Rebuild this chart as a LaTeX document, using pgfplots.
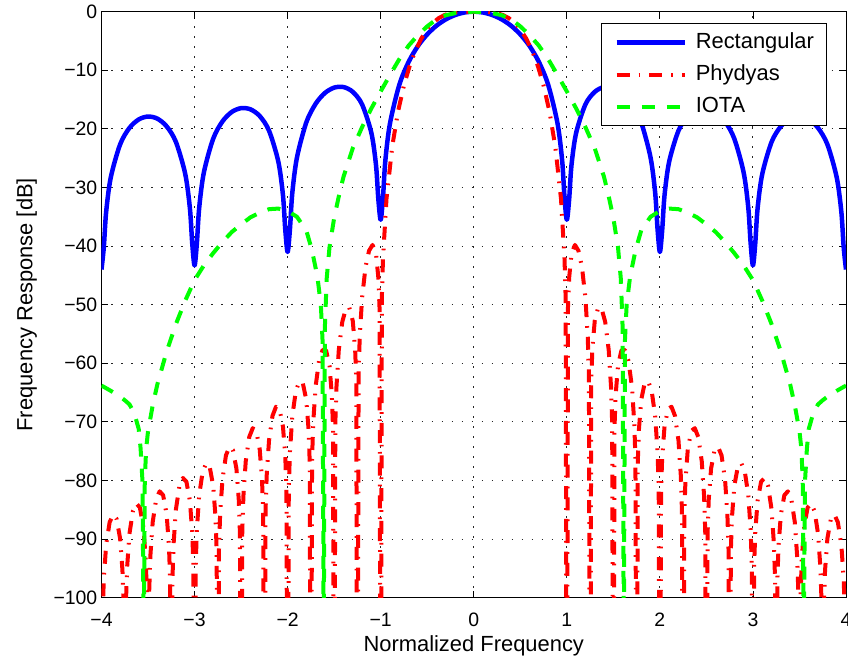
\documentclass[border=0pt]{standalone}
\usepackage{pgfplots}
\pgfplotsset{compat=1.18}
\usepackage{fontspec}
\setmainfont{Liberation Sans}
\usetikzlibrary{calc}
\definecolor{mblue}{RGB}{0,0,255}
\definecolor{mred}{RGB}{255,0,0}
\definecolor{mgreen}{RGB}{0,255,0}
\begin{document}
\begin{tikzpicture}
\begin{axis}[
  scale only axis, width=744.5bp, height=586bp,
  xmin=-4, xmax=4, ymin=-100, ymax=0,
  xtick={-4,-3,-2,-1,0,1,2,3,4},
  ytick={-100,-90,-80,-70,-60,-50,-40,-30,-20,-10,0},
  xticklabels={−4,−3,−2,−1,0,1,2,3,4},
  yticklabels={−100,−90,−80,−70,−60,−50,−40,−30,−20,−10,0},
  tick align=inside, major tick length=7bp,
  tick style={black, line width=0.8bp},
  axis line style={black, line width=1bp},
  grid=major,
  grid style={black!85, line width=0.9bp, dash pattern=on 1.3bp off 8.7bp},
  ticklabel style={font=\fontsize{19.5}{23}\selectfont},
  xticklabel style={anchor=base, yshift=-29bp},
  yticklabel style={xshift=-0.7bp},
  label style={font=\fontsize{22}{26}\selectfont},
  xlabel={Normalized Frequency},
  ylabel={Frequency Response [dB]},
  xlabel style={at={(axis description cs:0.5,-0.0922)}, anchor=base},
  ylabel style={at={(axis description cs:-0.0821,0.5)}, anchor=south},
  every axis plot/.append style={line join=round},
  legend image code/.code={\draw[#1] (0bp,0bp) -- (68bp,0bp);},
  legend cell align=left,
  legend style={at={(0.9751,0.9807)}, anchor=north east, draw=black, line width=1bp,
    fill=white, inner xsep=13bp, inner ysep=3bp, column sep=9bp, row sep=0bp,
    font=\fontsize{22}{26}\selectfont,
    nodes={inner xsep=0bp, inner ysep=5.5bp, text height=16bp, text depth=5bp}},
]
% Rectangular
\addplot[mblue, line width=4.5bp, smooth, tension=0.5] coordinates {
(-4.0,-44.0) (-3.975,-40.17) (-3.95,-34.17) (-3.9,-28.26) (-3.8,-22.65) (-3.7,-19.84)
(-3.6,-18.39) (-3.5,-17.89) (-3.4,-18.25) (-3.3,-19.57) (-3.2,-22.24) (-3.1,-27.71)
(-3.05,-33.56) (-3.025,-39.52) (-3.0,-43.3) (-2.975,-39.45) (-2.95,-33.42) (-2.9,-27.43)
(-2.8,-21.68) (-2.7,-18.72) (-2.6,-17.11) (-2.5,-16.46) (-2.4,-16.66) (-2.3,-17.80)
(-2.2,-20.30) (-2.1,-25.58) (-2.05,-31.33) (-2.025,-37.24) (-2.0,-41.0) (-1.975,-37.07)
(-1.95,-30.99) (-1.9,-24.90) (-1.8,-18.93) (-1.7,-15.74) (-1.6,-13.88) (-1.5,-12.96)
(-1.4,-12.86) (-1.3,-13.68) (-1.2,-15.82) (-1.1,-20.70) (-1.05,-26.23) (-1.025,-32.03)
(-1.0,-35.5) (-0.975,-31.62) (-0.95,-25.41) (-0.9,-19.05) (-0.8,-12.48) (-0.7,-8.58)
(-0.6,-5.86) (-0.5,-3.87) (-0.4,-2.38) (-0.3,-1.31) (-0.2,-0.57) (-0.1,-0.14) (0,0)
(0.1,-0.14) (0.2,-0.57) (0.3,-1.31) (0.4,-2.38) (0.5,-3.87) (0.6,-5.86) (0.7,-8.58)
(0.8,-12.48) (0.9,-19.05) (0.95,-25.41) (0.975,-31.62) (1.0,-35.5) (1.025,-32.03)
(1.05,-26.23) (1.1,-20.70) (1.2,-15.82) (1.3,-13.68) (1.4,-12.86) (1.5,-12.96)
(1.6,-13.88) (1.7,-15.74) (1.8,-18.93) (1.9,-24.90) (1.95,-30.99) (1.975,-37.07)
(2.0,-41.0) (2.025,-37.24) (2.05,-31.33) (2.1,-25.58) (2.2,-20.30) (2.3,-17.80)
(2.4,-16.66) (2.5,-16.46) (2.6,-17.11) (2.7,-18.72) (2.8,-21.68) (2.9,-27.43)
(2.95,-33.42) (2.975,-39.45) (3.0,-43.3) (3.025,-39.52) (3.05,-33.56) (3.1,-27.71)
(3.2,-22.24) (3.3,-19.57) (3.4,-18.25) (3.5,-17.89) (3.6,-18.39) (3.7,-19.84)
(3.8,-22.65) (3.9,-28.26) (3.95,-34.17) (3.975,-40.17) (4.0,-44.0)
};
\addlegendentry{Rectangular}
% Phydyas
\addplot[mred, line width=4bp, dash pattern=on 13bp off 9bp on 1.7bp off 9bp] coordinates {
(-4.0,-150) (-3.9875,-102.77) (-3.975,-96.77) (-3.95,-91.00) (-3.9125,-87.11) (-3.875,-85.83)
(-3.8375,-86.55) (-3.8,-89.90) (-3.775,-95.29) (-3.7625,-101.11) (-3.75,-150)
(-3.7375,-100.92) (-3.725,-94.91) (-3.7,-89.13) (-3.6625,-85.22) (-3.625,-83.92)
(-3.5875,-84.62) (-3.55,-87.95) (-3.525,-93.33) (-3.5125,-99.14) (-3.5,-150)
(-3.4875,-98.93) (-3.475,-92.91) (-3.45,-87.12) (-3.4125,-83.17) (-3.375,-81.85)
(-3.3375,-82.52) (-3.3,-85.81) (-3.275,-91.18) (-3.2625,-96.98) (-3.25,-150)
(-3.2375,-96.75) (-3.225,-90.72) (-3.2,-84.90) (-3.1625,-80.93) (-3.125,-79.57)
(-3.0875,-80.21) (-3.05,-83.48) (-3.025,-88.82) (-3.0125,-94.61) (-3.0,-150)
(-2.9875,-94.36) (-2.975,-88.32) (-2.95,-82.47) (-2.9125,-78.46) (-2.875,-77.06)
(-2.8375,-77.66) (-2.8,-80.89) (-2.775,-86.20) (-2.7625,-91.98) (-2.75,-150)
(-2.7375,-91.70) (-2.725,-85.64) (-2.7,-79.77) (-2.6625,-75.70) (-2.625,-74.26)
(-2.5875,-74.81) (-2.55,-77.98) (-2.525,-83.27) (-2.5125,-89.03) (-2.5,-150)
(-2.4875,-88.71) (-2.475,-82.63) (-2.45,-76.71) (-2.4125,-72.58) (-2.375,-71.07)
(-2.3375,-71.55) (-2.3,-74.66) (-2.275,-79.90) (-2.2625,-85.64) (-2.25,-150)
(-2.2375,-85.27) (-2.225,-79.16) (-2.2,-73.18) (-2.1625,-68.97) (-2.125,-67.42)
(-2.0875,-67.77) (-2.05,-70.80) (-2.025,-75.98) (-2.0125,-81.69) (-2.0,-150)
(-1.9875,-81.26) (-1.975,-75.12) (-1.95,-69.08) (-1.9125,-64.78) (-1.875,-63.09)
(-1.8375,-63.33) (-1.8,-66.19) (-1.775,-71.27) (-1.7625,-76.92) (-1.75,-150)
(-1.7375,-76.39) (-1.725,-70.20) (-1.7,-64.05) (-1.6625,-59.58) (-1.625,-57.73)
(-1.5875,-57.76) (-1.55,-60.41) (-1.525,-65.35) (-1.5125,-70.93) (-1.5,-150)
(-1.4875,-70.25) (-1.475,-63.98) (-1.45,-57.68) (-1.4125,-52.92) (-1.375,-50.75)
(-1.3375,-50.47) (-1.3,-52.77) (-1.275,-57.42) (-1.2625,-62.87) (-1.25,-150)
(-1.2375,-61.88) (-1.225,-55.45) (-1.2,-48.84) (-1.1625,-43.54) (-1.125,-40.79)
(-1.0875,-39.80) (-1.05,-41.34) (-1.025,-45.42) (-1.0125,-50.48) (-1.0,-150)
(-0.9875,-48.8) (-0.975,-42.03) (-0.9375,-31.91) (-0.875,-22.88) (-0.8125,-16.95)
(-0.75,-12.57) (-0.6875,-9.20) (-0.625,-6.58) (-0.5625,-4.55) (-0.5,-3.01)
(-0.4375,-1.88) (-0.375,-1.08) (-0.3125,-0.56) (-0.25,-0.25) (-0.1875,-0.09)
(-0.125,-0.02) (0,0)
(0.125,-0.02) (0.1875,-0.09) (0.25,-0.25) (0.3125,-0.56) (0.375,-1.08) (0.4375,-1.88)
(0.5,-3.01) (0.5625,-4.55) (0.625,-6.58) (0.6875,-9.20) (0.75,-12.57) (0.8125,-16.95)
(0.875,-22.88) (0.9375,-31.91) (0.975,-42.03) (0.9875,-48.8) (1.0,-150)
(1.0125,-50.48) (1.025,-45.42) (1.05,-41.34) (1.0875,-39.80) (1.125,-40.79)
(1.1625,-43.54) (1.2,-48.84) (1.225,-55.45) (1.2375,-61.88) (1.25,-150)
(1.2625,-62.87) (1.275,-57.42) (1.3,-52.77) (1.3375,-50.47) (1.375,-50.75)
(1.4125,-52.92) (1.45,-57.68) (1.475,-63.98) (1.4875,-70.25) (1.5,-150)
(1.5125,-70.93) (1.525,-65.35) (1.55,-60.41) (1.5875,-57.76) (1.625,-57.73)
(1.6625,-59.58) (1.7,-64.05) (1.725,-70.20) (1.7375,-76.39) (1.75,-150)
(1.7625,-76.92) (1.775,-71.27) (1.8,-66.19) (1.8375,-63.33) (1.875,-63.09)
(1.9125,-64.78) (1.95,-69.08) (1.975,-75.12) (1.9875,-81.26) (2.0,-150)
(2.0125,-81.69) (2.025,-75.98) (2.05,-70.80) (2.0875,-67.77) (2.125,-67.42)
(2.1625,-68.97) (2.2,-73.18) (2.225,-79.16) (2.2375,-85.27) (2.25,-150)
(2.2625,-85.64) (2.275,-79.90) (2.3,-74.66) (2.3375,-71.55) (2.375,-71.07)
(2.4125,-72.58) (2.45,-76.71) (2.475,-82.63) (2.4875,-88.71) (2.5,-150)
(2.5125,-89.03) (2.525,-83.27) (2.55,-77.98) (2.5875,-74.81) (2.625,-74.26)
(2.6625,-75.70) (2.7,-79.77) (2.725,-85.64) (2.7375,-91.70) (2.75,-150)
(2.7625,-91.98) (2.775,-86.20) (2.8,-80.89) (2.8375,-77.66) (2.875,-77.06)
(2.9125,-78.46) (2.95,-82.47) (2.975,-88.32) (2.9875,-94.36) (3.0,-150)
(3.0125,-94.61) (3.025,-88.82) (3.05,-83.48) (3.0875,-80.21) (3.125,-79.57)
(3.1625,-80.93) (3.2,-84.90) (3.225,-90.72) (3.2375,-96.75) (3.25,-150)
(3.2625,-96.98) (3.275,-91.18) (3.3,-85.81) (3.3375,-82.52) (3.375,-81.85)
(3.4125,-83.17) (3.45,-87.12) (3.475,-92.91) (3.4875,-98.93) (3.5,-150)
(3.5125,-99.14) (3.525,-93.33) (3.55,-87.95) (3.5875,-84.62) (3.625,-83.92)
(3.6625,-85.22) (3.7,-89.13) (3.725,-94.91) (3.7375,-100.92) (3.75,-150)
(3.7625,-101.11) (3.775,-95.29) (3.8,-89.90) (3.8375,-86.55) (3.875,-85.83)
(3.9125,-87.11) (3.95,-91.00) (3.975,-96.77) (3.9875,-102.77) (4.0,-150)
};
\addlegendentry{Phydyas}
% IOTA
\addplot[mgreen, line width=4bp, dash pattern=on 13bp off 12bp] coordinates {
(-4.0,-63.8) (-3.9,-64.7) (-3.8,-65.7) (-3.75,-66.3) (-3.7,-67.0) (-3.65,-68.4)
(-3.6,-71.2) (-3.58,-74.5) (-3.56,-80) (-3.545,-110) (-3.535,-80) (-3.52,-74.5)
(-3.5,-71.6) (-3.45,-67.2) (-3.4,-63.6) (-3.3,-58.0) (-3.2,-53.3) (-3.1,-49.3)
(-3.0,-45.8) (-2.9,-43.3) (-2.8,-41.2) (-2.7,-39.3) (-2.6,-37.6) (-2.5,-36.3)
(-2.4,-35.1) (-2.3,-34.3) (-2.2,-33.7) (-2.1,-33.6) (-2.0,-34.0) (-1.9,-35.0)
(-1.8,-37.3) (-1.74,-40.6) (-1.68,-45.2) (-1.643,-50) (-1.625,-56) (-1.612,-110)
(-1.6,-54) (-1.58,-45.5) (-1.55,-40.2) (-1.5,-35.2) (-1.45,-31.5) (-1.4,-28.2)
(-1.3,-23.3) (-1.2,-19.7) (-1.1,-16.5) (-1.0,-13.6) (-0.9,-10.8) (-0.8,-8.1)
(-0.7,-5.8) (-0.6,-4.0) (-0.5,-2.5) (-0.4,-1.3) (-0.3,-0.6) (-0.2,-0.25)
(-0.1,-0.05) (0,0)
(0.1,-0.05) (0.2,-0.25) (0.3,-0.6) (0.4,-1.3) (0.5,-2.5) (0.6,-4.0) (0.7,-5.8)
(0.8,-8.1) (0.9,-10.8) (1.0,-13.6) (1.1,-16.5) (1.2,-19.7) (1.3,-23.3) (1.4,-28.2)
(1.45,-31.5) (1.5,-35.2) (1.55,-40.2) (1.58,-45.5) (1.6,-54) (1.612,-110)
(1.625,-56) (1.643,-50) (1.68,-45.2) (1.74,-40.6) (1.8,-37.3) (1.9,-35.0)
(2.0,-34.0) (2.1,-33.6) (2.2,-33.7) (2.3,-34.3) (2.4,-35.1) (2.5,-36.3)
(2.6,-37.6) (2.7,-39.3) (2.8,-41.2) (2.9,-43.3) (3.0,-45.8) (3.1,-49.3)
(3.2,-53.3) (3.3,-58.0) (3.4,-63.6) (3.45,-67.2) (3.5,-71.6) (3.52,-74.5)
(3.535,-80) (3.545,-110) (3.56,-80) (3.58,-74.5) (3.6,-71.2) (3.65,-68.4)
(3.7,-67.0) (3.75,-66.3) (3.8,-65.7) (3.9,-64.7) (4.0,-63.8)
};
\addlegendentry{IOTA}
\end{axis}
\pgfresetboundingbox
\useasboundingbox ($(current axis.south west)+(-101.5bp,-63.3bp)$) rectangle ($(current axis.north east)+(2bp,11.7bp)$);
\end{tikzpicture}
\end{document}
